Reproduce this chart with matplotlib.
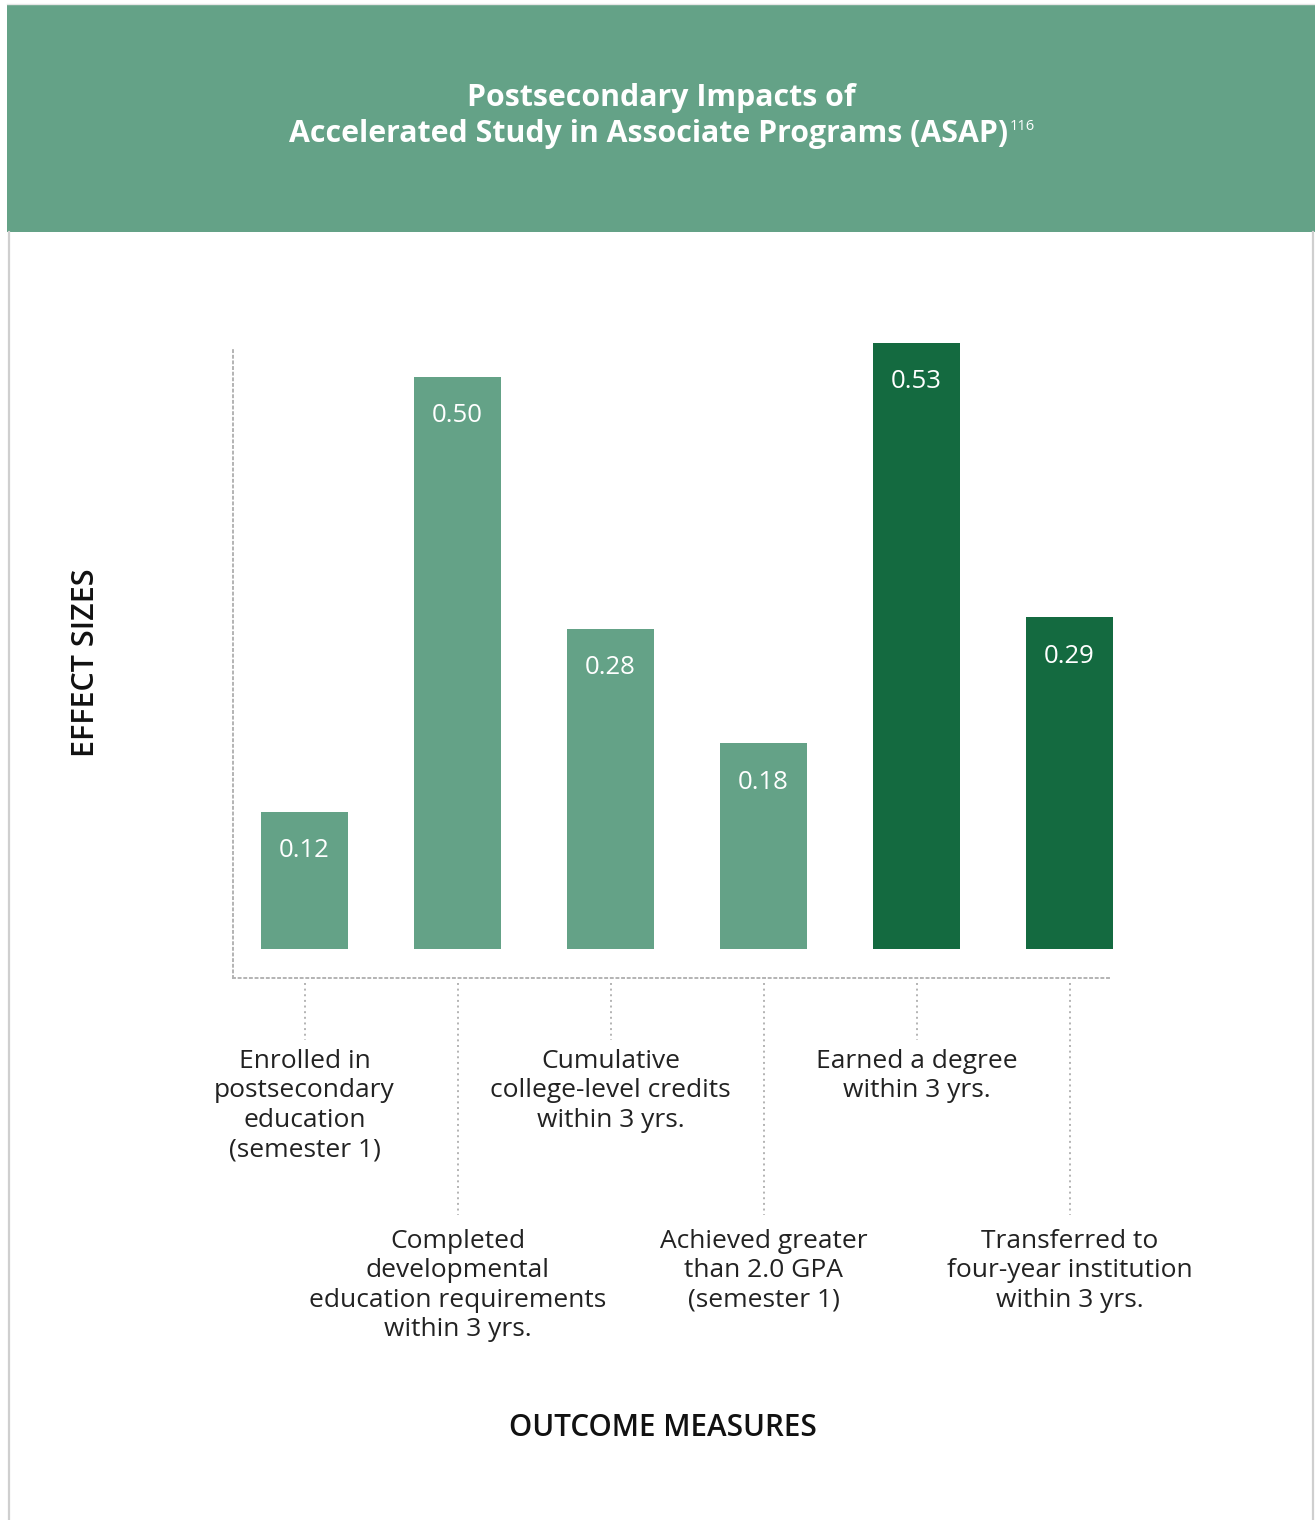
import matplotlib
matplotlib.use("Agg")
import matplotlib.pyplot as plt
from matplotlib.patches import Rectangle
from matplotlib.lines import Line2D
from matplotlib import font_manager as fm
import matplotlib.transforms as mtransforms

# ---------------- data ----------------
categories = [
    "Enrolled in\npostsecondary\neducation\n(semester 1)",
    "Completed\ndevelopmental\neducation requirements\nwithin 3 yrs.",
    "Cumulative\ncollege-level credits\nwithin 3 yrs.",
    "Achieved greater\nthan 2.0 GPA\n(semester 1)",
    "Earned a degree\nwithin 3 yrs.",
    "Transferred to\nfour-year institution\nwithin 3 yrs.",
]
values = [0.12, 0.50, 0.28, 0.18, 0.53, 0.29]
value_labels = ["0.12", "0.50", "0.28", "0.18", "0.53", "0.29"]
groups = ["light", "light", "light", "light", "dark", "dark"]
title_line1 = "Postsecondary Impacts of"
title_line2 = "Accelerated Study in Associate Programs (ASAP)"
title_note = "116"
y_title = "EFFECT SIZES"
x_title = "OUTCOME MEASURES"

# ---------------- style ----------------
LIGHT = "#64A287"
DARK = "#146A40"
HEADER = "#64A287"
TEXT = "#222222"
DOT = "#b3b3b3"

available = {f.name for f in fm.fontManager.ttflist}
def pick(*names):
    for n in names:
        if n in available:
            return n
    return "DejaVu Sans"

BODY = pick("Open Sans", "Noto Sans", "Lato", "DejaVu Sans")
HEAD = pick("Open Sans", "Noto Sans", "DejaVu Sans")

W, H, DPI = 1315, 1520, 100
fig = plt.figure(figsize=(W / DPI, H / DPI), dpi=DPI)
fig.patch.set_facecolor("white")
renderer = fig.canvas.get_renderer()

def fx(px):
    return px / W

def fy(py):
    return 1 - py / H

# header band and page borders
fig.patches.append(Rectangle((fx(7), fy(232)), fx(1315) - fx(7), fy(5) - fy(232),
                             transform=fig.transFigure, facecolor=HEADER,
                             edgecolor="none", zorder=0))
fig.lines.append(Line2D([fx(7), fx(1315)], [fy(4), fy(4)], transform=fig.transFigure,
                        color="#e6e6e6", lw=1.0))
fig.lines.append(Line2D([fx(8.5), fx(8.5)], [fy(232), fy(1520)], transform=fig.transFigure,
                        color="#cfcfcf", lw=1.6))
fig.lines.append(Line2D([fx(1313), fx(1313)], [fy(232), fy(1520)], transform=fig.transFigure,
                        color="#cfcfcf", lw=1.6))

# title
fig.text(fx(661), fy(98), title_line1, ha="center", va="center", color="white",
         fontsize=21.8, fontweight="bold", family=HEAD)
t2 = fig.text(fx(648.5), fy(134), title_line2, ha="center", va="center", color="white",
              fontsize=21.8, fontweight="bold", family=HEAD)
bb = t2.get_window_extent(renderer=renderer)
fig.text(bb.x1 / W + fx(2), fy(126), title_note, ha="left", va="center", color="white",
         fontsize=10.5, family=HEAD)

# ---------------- bars ----------------
PX_PER_UNIT = 1144.0
BASE = 949.0
STEP = 153.0
X0 = 304.5
ax = fig.add_axes([fx(233), fy(978), (1112 - 233) / W, (978 - 347) / H])
ax.set_facecolor("none")
xs = list(range(len(values)))
ax.set_xlim(-(X0 - 233) / STEP, (len(values) - 1) + (1112 - (X0 + STEP * (len(values) - 1))) / STEP)
ax.set_ylim(-(978 - BASE) / PX_PER_UNIT, (BASE - 347) / PX_PER_UNIT)
bar_colors = [LIGHT if g == "light" else DARK for g in groups]
bars = ax.bar(xs, values, width=87 / STEP, color=bar_colors, clip_on=False, zorder=2)
for x, v, lab in zip(xs, values, value_labels):
    ax.annotate(lab, (x, v), xytext=(0, -39 * 72 / DPI), textcoords="offset points",
                ha="center", va="center", color="white", fontsize=18.5, family=BODY,
                annotation_clip=False, zorder=3)

ax.set_xticks([])
ax.set_yticks([])
for side in ("top", "right"):
    ax.spines[side].set_visible(False)
for side in ("left", "bottom"):
    sp = ax.spines[side]
    sp.set_color(DOT)
    sp.set_linewidth(1.4)
    sp.set_linestyle((0, (1, 1.9)))

# leader lines + category labels
blend = mtransforms.blended_transform_factory(ax.transData, fig.transFigure)
for i, (x, cat) in enumerate(zip(xs, categories)):
    long = (i % 2 == 1)
    y_end = 1215 if long else 1040
    fig.lines.append(Line2D([x, x], [fy(983), fy(y_end)], transform=blend,
                            color=DOT, lw=1.4, linestyle=(0, (1, 1.9))))
    y_top = 1229 if long else 1049
    fig.text(x, fy(y_top), cat, transform=blend, ha="center", va="top",
             multialignment="center", color=TEXT, fontsize=19, family=BODY,
             linespacing=1.235)

# axis titles
fig.text(fx(86), fy(663), y_title, rotation=90, ha="center", va="center",
         color="#111111", fontsize=22, fontweight="semibold", family=HEAD)
fig.text(fx(663), fy(1428), x_title, ha="center", va="center",
         color="#111111", fontsize=21.3, fontweight="semibold", family=HEAD)

fig.savefig("out.png", dpi=DPI, facecolor="white")
